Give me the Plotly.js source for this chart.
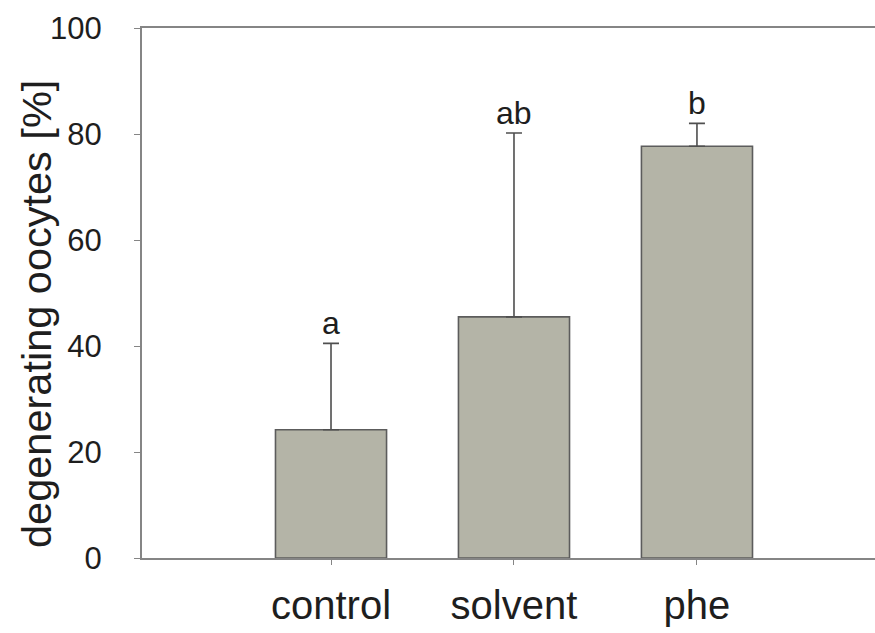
<!DOCTYPE html>
<html>
<head>
<meta charset="utf-8">
<script src="https://cdn.plot.ly/plotly-3.0.1.min.js"></script>
<style>
  html, body { margin: 0; padding: 0; background: #ffffff; }
  #chart { width: 875px; height: 633px; }
</style>
</head>
<body>
<div id="chart"></div>
<script>
// Data
const categories = ["control", "solvent", "phe"];
const meanValues = [24.2, 45.5, 77.7];
const errorUpper = [16.3, 34.7, 4.3];
const errorLower = [0, 0, 0];
const groupLetters = ["a", "ab", "b"];
const yTickValues = [0, 20, 40, 60, 80, 100];
const yTickLabels = ["0", "20", "40", "60", "80", "100"];
const yTitle = "degenerating oocytes [%]";

const FONT = "Liberation Sans, Arial, Helvetica, sans-serif";
const TEXT = "#1e1e1e";
const AXIS = "#858585";

const trace = {
  type: "bar",
  x: categories,
  y: meanValues,
  width: 0.607,
  marker: { color: "#b4b4a7", line: { color: "#5c5c5c", width: 1.6 } },
  error_y: {
    type: "data",
    symmetric: false,
    array: errorUpper,
    arrayminus: errorLower,
    color: "#4f4f4f",
    thickness: 1.6,
    width: 8
  },
  hoverinfo: "skip"
};

const annotations = categories.map((c, i) => ({
  x: c,
  y: meanValues[i] + errorUpper[i],
  xref: "x",
  yref: "y",
  text: groupLetters[i],
  showarrow: false,
  yanchor: "bottom",
  yshift: 0,
  font: { family: FONT, size: 32, color: TEXT }
}));

// y-axis title (placed as a rotated annotation to match the reference's vertical offset)
annotations.push({
  xref: "paper",
  yref: "paper",
  x: 0,
  y: 0.5,
  xshift: -106,
  yshift: -21,
  xanchor: "center",
  yanchor: "middle",
  textangle: -90,
  text: yTitle,
  showarrow: false,
  font: { family: FONT, size: 41.5, color: TEXT }
});

const layout = {
  width: 875,
  height: 633,
  margin: { l: 142, r: 0, t: 28, b: 75 },
  paper_bgcolor: "#ffffff",
  plot_bgcolor: "#ffffff",
  showlegend: false,
  xaxis: {
    type: "category",
    range: [-1.033, 2.973],
    showline: true,
    linecolor: AXIS,
    linewidth: 2,
    mirror: true,
    ticks: "outside",
    ticklen: 5,
    tickwidth: 1,
    tickcolor: AXIS,
    showgrid: false,
    zeroline: false,
    tickfont: { family: FONT, size: 40, color: TEXT },
    ticklabelstandoff: 6
  },
  yaxis: {
    range: [0, 100],
    tickvals: yTickValues,
    ticktext: yTickLabels,
    showline: true,
    linecolor: AXIS,
    linewidth: 2,
    ticks: "outside",
    ticklen: 6,
    tickwidth: 1,
    tickcolor: AXIS,
    showgrid: false,
    zeroline: false,
    tickfont: { family: FONT, size: 31, color: TEXT },
    ticklabelstandoff: 26
  },
  annotations: annotations
};

Plotly.newPlot("chart", [trace], layout, { staticPlot: true, displayModeBar: false });
</script>
</body>
</html>
